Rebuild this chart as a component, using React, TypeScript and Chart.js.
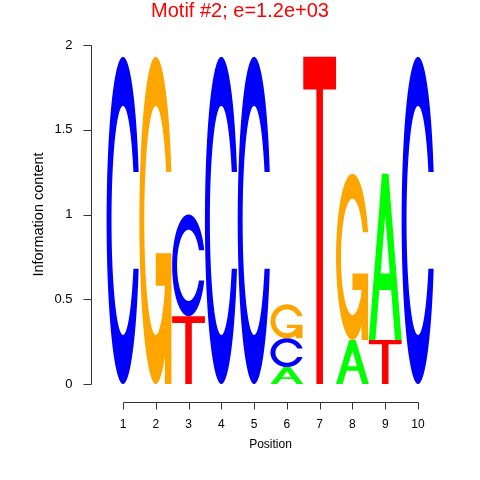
import React, { useEffect, useRef } from 'react';
import { Chart, registerables } from 'chart.js';

Chart.register(...registerables);
Chart.defaults.font.family = '"Liberation Sans", Arial, Helvetica, sans-serif';

// ---- data ----
const POSITIONS = ['1', '2', '3', '4', '5', '6', '7', '8', '9', '10'];
const A_BITS = [0, 0, 0, 0, 0, 0.1, 0, 0.26, 0.98, 0];
const C_BITS = [1.93, 0, 0.6, 1.93, 1.93, 0.17, 0, 0, 0, 1.93];
const G_BITS = [0, 1.93, 0, 0, 0, 0.2, 0, 0.98, 0, 0];
const T_BITS = [0, 0, 0.4, 0, 0, 0, 1.93, 0, 0.26, 0];
const Y_TICKS = [0, 0.5, 1, 1.5, 2];
const TITLE = 'Motif #2; e=1.2e+03';
const X_TITLE = 'Position';
const Y_TITLE = 'Information content';
const LETTERS = ['A', 'C', 'G', 'T'];
const LETTER_BITS: Record<string, number[]> = { A: A_BITS, C: C_BITS, G: G_BITS, T: T_BITS };
const LETTER_COLORS: Record<string, string> = { A: '#00FF00', C: '#0000FF', G: '#FFA500', T: '#FF0000' };

// ---- letter shapes (unit box, y up) ----
function seq(a: number, b: number, n: number) {
  const out: number[] = [];
  for (let i = 0; i < n; i++) out.push(a + ((b - a) * i) / (n - 1));
  return out;
}
function buildC() {
  const a1 = seq(0.3 + Math.PI / 2, Math.PI, 100);
  const a2 = seq(Math.PI, 1.5 * Math.PI, 100);
  const xl1 = a1.map((a) => 0.5 + 0.5 * Math.sin(a));
  const yl1 = a1.map((a) => 0.5 + 0.5 * Math.cos(a));
  const xl2 = a2.map((a) => 0.5 + 0.5 * Math.sin(a));
  const yl2 = a2.map((a) => 0.5 + 0.5 * Math.cos(a));
  const xl = [...xl1, ...xl2];
  const yl = [...yl1, ...yl2];
  let x = [...xl, ...[...xl].reverse()];
  let y = [...yl, ...[...yl].reverse().map((v) => 1 - v)];
  const maxY = Math.max(...yl1);
  let xi1 = a1.map((a) => 0.5 + 0.35 * Math.sin(a));
  let yi1 = a1.map((a) => 0.5 + 0.35 * Math.cos(a));
  const keep = yi1.map((v) => v <= maxY);
  xi1 = xi1.filter((_, i) => keep[i]);
  yi1 = yi1.filter((_, i) => keep[i]);
  yi1[0] = maxY;
  const xi2 = a2.map((a) => 0.5 + 0.35 * Math.sin(a));
  const yi2 = a2.map((a) => 0.5 + 0.35 * Math.cos(a));
  const xi = [...xi1, ...xi2];
  const yi = [...yi1, ...yi2];
  const x1 = [...xi, ...[...xi].reverse()];
  const y1 = [...yi, ...[...yi].reverse().map((v) => 1 - v)];
  x = [...x, ...[...x1].reverse()];
  y = [...y, ...[...y1].reverse()];
  return { x, y, r1: Math.max(...xl1) };
}
const C_SHAPE = buildC();

type Poly = { x: number[]; y: number[]; white?: boolean };
function shapesFor(letter: string): Poly[] {
  if (letter === 'T') {
    return [{ x: [0, 1, 1, 0.6, 0.6, 0.4, 0.4, 0], y: [1, 1, 0.9, 0.9, 0, 0, 0.9, 0.9] }];
  }
  if (letter === 'A') {
    return [
      { x: [0, 0.4, 0.6, 1, 0.8, 0.68, 0.32, 0.2, 0], y: [0, 1, 1, 0, 0, 0.3, 0.3, 0, 0] },
      { x: [0.36, 0.5, 0.64, 0.36], y: [0.4, 0.75, 0.4, 0.4], white: true },
    ];
  }
  if (letter === 'C') return [{ x: C_SHAPE.x, y: C_SHAPE.y }];
  const r1 = C_SHAPE.r1;
  const h1 = 0.4;
  return [
    { x: C_SHAPE.x, y: C_SHAPE.y },
    { x: [r1, 0.5, 0.5, r1 - 0.2, r1 - 0.2, r1, r1], y: [h1, h1, h1 - 0.1, h1 - 0.1, 0, 0, h1] },
  ];
}

function drawLetter(ctx: CanvasRenderingContext2D, letter: string, left: number, bottom: number, w: number, h: number) {
  for (const p of shapesFor(letter)) {
    ctx.beginPath();
    p.x.forEach((xv, k) => {
      const px = left + xv * w;
      const py = bottom - p.y[k] * h;
      if (k === 0) ctx.moveTo(px, py);
      else ctx.lineTo(px, py);
    });
    ctx.closePath();
    ctx.fillStyle = p.white ? '#FFFFFF' : LETTER_COLORS[letter];
    ctx.fill();
  }
}

// ---- stack layers: smallest at bottom in each column ----
function buildLayers() {
  const cols = POSITIONS.map((_, j) =>
    LETTERS.map((l) => ({ l, h: LETTER_BITS[l][j] }))
      .filter((e) => e.h > 0)
      .sort((a, b) => a.h - b.h)
  );
  const depth = Math.max(...cols.map((c) => c.length));
  const layers = [];
  for (let k = 0; k < depth; k++) {
    layers.push({
      label: 'layer ' + (k + 1),
      data: cols.map((c) => (c[k] ? c[k].h : 0)),
      letters: cols.map((c) => (c[k] ? c[k].l : '')),
      backgroundColor: 'rgba(0,0,0,0)',
      borderWidth: 0,
      barPercentage: 1,
      categoryPercentage: 1,
      xAxisID: 'x',
      yAxisID: 'y',
    });
  }
  return layers;
}

const logoPlugin = {
  id: 'logoLetters',
  afterDatasetsDraw(chart: any) {
    const ctx = chart.ctx as CanvasRenderingContext2D;
    ctx.save();
    chart.data.datasets.forEach((ds: any, i: number) => {
      const meta = chart.getDatasetMeta(i);
      meta.data.forEach((bar: any, j: number) => {
        const letter = ds.letters[j];
        if (!letter) return;
        const { x, y, base, width } = bar.getProps(['x', 'y', 'base', 'width'], true);
        const h = base - y;
        if (h <= 0) return;
        drawLetter(ctx, letter, x - width / 2, base, width, h);
      });
    });
    ctx.restore();
  },
  afterDraw(chart: any) {
    const ctx = chart.ctx as CanvasRenderingContext2D;
    const area = chart.chartArea;
    const xs = chart.scales.x;
    const ys = chart.scales.y;
    ctx.save();
    ctx.strokeStyle = '#333333';
    ctx.lineWidth = 1;
    // y axis
    const ax = Math.round(area.left - 16) + 0.5;
    const yTop = Math.round(ys.getPixelForValue(Y_TICKS[Y_TICKS.length - 1])) + 0.5;
    const yBot = Math.round(ys.getPixelForValue(Y_TICKS[0])) + 0.5;
    ctx.beginPath();
    ctx.moveTo(ax, yTop);
    ctx.lineTo(ax, yBot);
    Y_TICKS.forEach((v) => {
      const py = Math.round(ys.getPixelForValue(v)) + 0.5;
      ctx.moveTo(ax, py);
      ctx.lineTo(ax - 8, py);
    });
    ctx.stroke();
    // x axis
    const ay = Math.round(area.bottom + 18) + 0.5;
    const x0 = Math.round(xs.getPixelForTick(0)) + 0.5;
    const x1 = Math.round(xs.getPixelForTick(POSITIONS.length - 1)) + 0.5;
    ctx.beginPath();
    ctx.moveTo(x0, ay);
    ctx.lineTo(x1, ay);
    POSITIONS.forEach((_, j) => {
      const px = Math.round(xs.getPixelForTick(j)) + 0.5;
      ctx.moveTo(px, ay);
      ctx.lineTo(px, ay + 7);
    });
    ctx.stroke();
    ctx.restore();
  },
};

export default function App() {
  const ref = useRef<HTMLCanvasElement>(null);
  useEffect(() => {
    if (!ref.current) return;
    const chart = new Chart(ref.current, {
      type: 'bar',
      data: { labels: POSITIONS, datasets: buildLayers() as any },
      options: {
        responsive: false,
        animation: false,
        devicePixelRatio: 1,
        layout: { padding: { left: 0, right: 0, top: 0, bottom: 0 } },
        plugins: {
          legend: { display: false },
          tooltip: { enabled: false },
          title: {
            display: true,
            text: TITLE,
            color: '#FF0000',
            font: { size: 20, weight: 'normal', lineHeight: 1.1 },
            padding: { top: 0, bottom: 23 },
          },
        },
        scales: {
          x: {
            stacked: true,
            grid: { display: false, drawTicks: false },
            border: { display: false },
            ticks: { color: '#000', font: { size: 12 }, padding: 33, maxRotation: 0, autoSkip: false },
            title: { display: true, text: X_TITLE, color: '#000', font: { size: 12 }, padding: { top: 0, bottom: 28 } },
            afterFit: (s: any) => {
              s.height = 96;
            },
          },
          y: {
            stacked: true,
            position: 'left',
            min: 0,
            max: 2,
            grid: { display: false, drawTicks: false },
            border: { display: false },
            ticks: { color: '#000', font: { size: 13 }, padding: 34, callback: (v: any) => String(v) },
            afterBuildTicks: (s: any) => {
              s.ticks = Y_TICKS.map((v) => ({ value: v }));
            },
            title: { display: true, text: Y_TITLE, color: '#000', font: { size: 14.5 }, padding: { top: 30.5, bottom: 0 } },
            afterFit: (s: any) => {
              s.width = 106.6;
            },
          },
          yRight: {
            position: 'right',
            display: true,
            min: 0,
            max: 2,
            grid: { display: false, drawTicks: false },
            border: { display: false },
            ticks: { display: false },
            afterFit: (s: any) => {
              s.width = 45.6;
            },
          },
        },
      } as any,
      plugins: [logoPlugin],
    });
    return () => chart.destroy();
  }, []);
  return (
    <div style={{ position: 'absolute', left: 0, top: 0, width: 480, height: 480, background: '#fff' }}>
      <canvas ref={ref} width={480} height={480} style={{ display: 'block', width: 480, height: 480 }} />
    </div>
  );
}
